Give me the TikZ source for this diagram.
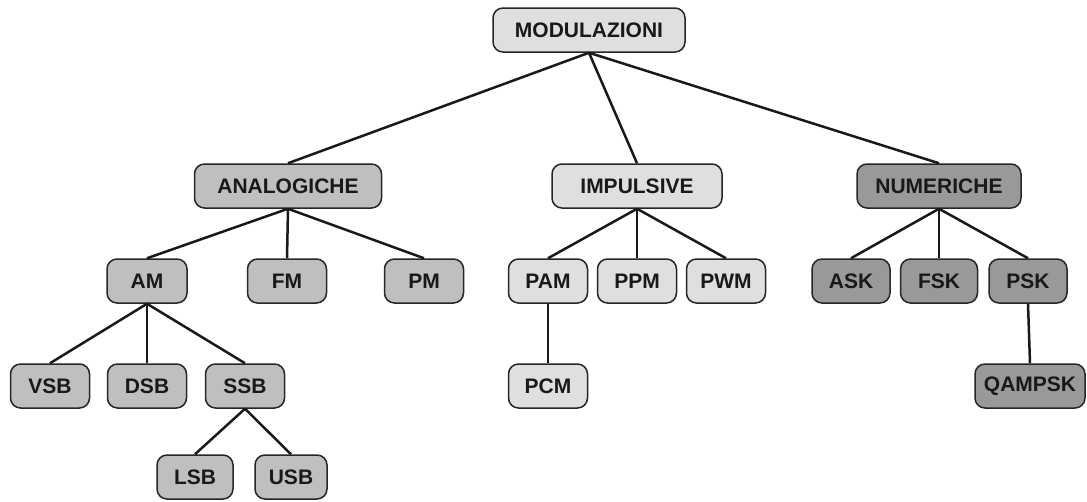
\documentclass[tikz,border=0pt]{standalone}
\usepackage{fontspec}
\setmainfont{Liberation Sans}
\begin{document}
\begin{tikzpicture}[x=1pt,y=-1pt,
  box/.style={draw=black!85, line width=1.5pt, rounded corners=10pt, inner sep=0pt,
    minimum height=44pt, font=\fontsize{21}{24}\selectfont\bfseries, text=black!90},
  light/.style={box, fill=lightgray!50},
  mid/.style={box, fill=black!25},
  dark/.style={box, fill=black!40},
  link/.style={line width=2.5pt, black!90}]
\useasboundingbox[fill=white] (0,0) rectangle (1087,501);
\node[light, minimum width=192pt] (mod) at (589,30) {MODULAZIONI};
\node[mid, minimum width=187pt] (ana) at (288,186) {ANALOGICHE};
\node[light, minimum width=170pt] (imp) at (637,186) {IMPULSIVE};
\node[dark, minimum width=164pt] (num) at (939,186) {NUMERICHE};
\node[mid, minimum width=80pt] (am) at (147,281) {AM};
\node[mid, minimum width=79pt] (fm) at (287,281) {FM};
\node[mid, minimum width=79pt] (pm) at (424,281) {PM};
\node[mid, minimum width=79pt] (vsb) at (50,386) {VSB};
\node[mid, minimum width=79pt] (dsb) at (147,386) {DSB};
\node[mid, minimum width=79pt] (ssb) at (245,386) {SSB};
\node[mid, minimum width=76pt] (lsb) at (195,477) {LSB};
\node[mid, minimum width=72pt] (usb) at (291,477) {USB};
\node[light, minimum width=79pt] (pam) at (548,281) {PAM};
\node[light, minimum width=79pt] (ppm) at (637,281) {PPM};
\node[light, minimum width=79pt] (pwm) at (726,281) {PWM};
\node[light, minimum width=79pt] (pcm) at (548,386) {PCM};
\node[dark, minimum width=78pt] (ask) at (851,281) {ASK};
\node[dark, minimum width=77pt] (fsk) at (939,281) {FSK};
\node[dark, minimum width=78pt] (psk) at (1028,281) {PSK};
\node[dark, minimum width=110pt] (qam) at (1030,386) {QAMPSK};
\foreach \p/\c in {mod/ana, mod/imp, mod/num, ana/am, ana/fm, ana/pm,
  am/vsb, am/dsb, am/ssb, ssb/lsb, ssb/usb, imp/pam, imp/ppm, imp/pwm,
  pam/pcm, num/ask, num/fsk, num/psk, psk/qam}
  \draw[link] (\p.south) -- (\c.north);
\end{tikzpicture}
\end{document}
